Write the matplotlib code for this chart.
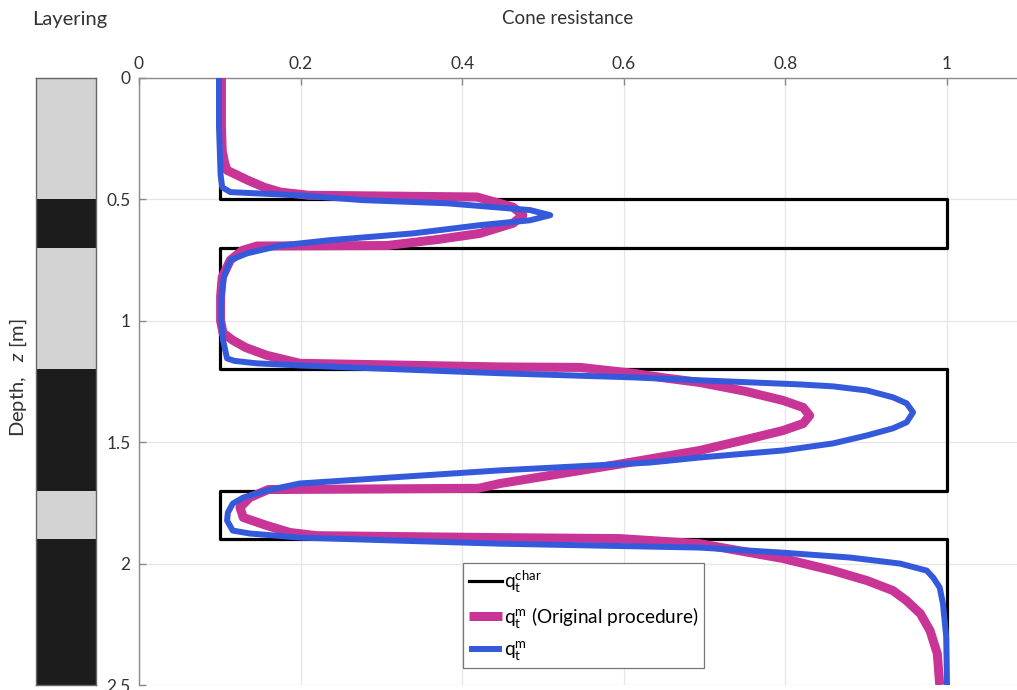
import matplotlib.pyplot as plt
import numpy as np

plt.rcParams['font.family'] = ['Lato', 'DejaVu Sans']
plt.rcParams['mathtext.fontset'] = 'custom'
plt.rcParams['mathtext.rm'] = 'Lato'
plt.rcParams['mathtext.it'] = 'Lato:italic'

# layer boundaries (depth, m) and type (1 = stiff, 0 = soft)
layer_top = [0.0, 0.5, 0.7, 1.2, 1.7, 1.9]
layer_bot = [0.5, 0.7, 1.2, 1.7, 1.9, 2.5]
layer_stiff = [0, 1, 0, 1, 0, 1]

# characteristic cone resistance per layer
q_soft = 0.1
q_stiff = 1.0

# measured cone resistance, original procedure
z_orig = [0.0, 0.1, 0.2, 0.3, 0.35, 0.38, 0.42, 0.45, 0.47, 0.483, 0.49,
          0.532, 0.565, 0.598, 0.64, 0.665, 0.69, 0.692, 0.71, 0.75, 0.82,
          0.9, 1.0, 1.05, 1.08, 1.11, 1.142, 1.175, 1.19, 1.192, 1.216,
          1.235, 1.254, 1.29, 1.328, 1.357, 1.39, 1.423, 1.452, 1.49, 1.534,
          1.588, 1.67, 1.69, 1.695, 1.728, 1.769, 1.81, 1.843, 1.872, 1.885,
          1.893, 1.897, 1.918, 1.979, 2.029, 2.07, 2.111, 2.153, 2.206,
          2.276, 2.371, 2.5]
q_orig = [0.102, 0.102, 0.102, 0.103, 0.106, 0.109, 0.134, 0.155, 0.175,
          0.21, 0.418, 0.463, 0.475, 0.463, 0.422, 0.37, 0.307, 0.146,
          0.128, 0.113, 0.103, 0.101, 0.101, 0.104, 0.116, 0.132, 0.158,
          0.199, 0.447, 0.546, 0.611, 0.65, 0.694, 0.75, 0.797, 0.822, 0.83,
          0.822, 0.797, 0.75, 0.694, 0.599, 0.447, 0.42, 0.16, 0.137, 0.125,
          0.129, 0.158, 0.187, 0.22, 0.447, 0.595, 0.694, 0.797, 0.859,
          0.901, 0.933, 0.95, 0.967, 0.979, 0.988, 0.991]

# measured cone resistance, new procedure
z_new = [0.0, 0.1, 0.2, 0.3, 0.4, 0.45, 0.47, 0.483, 0.503, 0.516, 0.544,
         0.565, 0.586, 0.606, 0.64, 0.668, 0.69, 0.722, 0.75, 0.82, 0.9,
         1.0, 1.08, 1.155, 1.165, 1.175, 1.184, 1.216, 1.233, 1.245, 1.262,
         1.27, 1.287, 1.315, 1.34, 1.377, 1.418, 1.443, 1.472, 1.505, 1.534,
         1.563, 1.584, 1.616, 1.67, 1.699, 1.728, 1.753, 1.79, 1.823, 1.864,
         1.876, 1.893, 1.918, 1.934, 1.955, 1.975, 2.0, 2.029, 2.058, 2.099,
         2.165, 2.3, 2.5]
q_new = [0.099, 0.099, 0.099, 0.1, 0.101, 0.103, 0.113, 0.196, 0.277,
         0.381, 0.484, 0.509, 0.484, 0.422, 0.339, 0.236, 0.175, 0.134,
         0.113, 0.105, 0.102, 0.102, 0.104, 0.109, 0.118, 0.145, 0.199,
         0.447, 0.611, 0.694, 0.818, 0.859, 0.901, 0.933, 0.95, 0.958,
         0.95, 0.933, 0.901, 0.859, 0.797, 0.694, 0.632, 0.447, 0.199,
         0.158, 0.129, 0.116, 0.11, 0.109, 0.116, 0.137, 0.199, 0.447,
         0.694, 0.797, 0.88, 0.942, 0.975, 0.983, 0.991, 0.995, 0.999, 1.0]

x_ticks = [0, 0.2, 0.4, 0.6, 0.8, 1]
x_labels = ['0', '0.2', '0.4', '0.6', '0.8', '1']
y_ticks = [0, 0.5, 1, 1.5, 2, 2.5]
y_labels = ['0', '0.5', '1', '1.5', '2', '2.5']

W, H = 1017, 690
fig = plt.figure(figsize=(W / 100, H / 100), dpi=100)

axis_col = '#8a8a8a'
text_col = '#333333'

# layering column
axl = fig.add_axes([36 / W, 1 - 685 / H, 60 / W, 607 / H])
for top, bot, stiff in zip(layer_top, layer_bot, layer_stiff):
    axl.fill_between([0, 1], top, bot, color='#1c1c1c' if stiff else '#d3d3d3',
                     linewidth=0)
axl.set_xlim(0, 1)
axl.set_ylim(2.5, 0)
axl.set_xticks([])
axl.set_yticks([])
for s in axl.spines.values():
    s.set_color('#666666')
    s.set_linewidth(1.0)

# main axes
ax = fig.add_axes([139 / W, 1 - 685 / H, (W - 139) / W, 607 / H])

# characteristic step profile
zc = []
qc = []
for top, bot, stiff in zip(layer_top, layer_bot, layer_stiff):
    q = q_stiff if stiff else q_soft
    zc += [top, bot]
    qc += [q, q]
ax.plot(qc, zc, color='black', linewidth=2.3, zorder=3,
        label=r'q$_\mathregular{t}^\mathregular{char}$')
ax.plot(q_orig, z_orig, color='#c93597', linewidth=6.5, zorder=4,
        solid_joinstyle='round', solid_capstyle='butt',
        label=r'q$_\mathregular{t}^\mathregular{m}$ (Original procedure)')
ax.plot(q_new, z_new, color='#3559db', linewidth=4.3, zorder=5,
        solid_joinstyle='round', solid_capstyle='butt',
        label=r'q$_\mathregular{t}^\mathregular{m}$')

ax.set_xlim(0, (W - 139) / 808)
ax.set_ylim(2.5, 0)
ax.xaxis.tick_top()
ax.set_xticks(x_ticks)
ax.set_xticklabels(x_labels)
ax.set_yticks(y_ticks)
ax.set_yticklabels(y_labels)
ax.tick_params(direction='in', length=5, width=1, color=axis_col,
               labelcolor=text_col, labelsize=12.5, pad=4)
ax.tick_params(axis='y', pad=6)
ax.grid(True, color='#e6e6e6', linewidth=0.9)
ax.set_axisbelow(True)
for s in ax.spines.values():
    s.set_color(axis_col)
    s.set_linewidth(1.0)
ax.spines['right'].set_visible(False)
ax.spines['bottom'].set_visible(False)

leg = ax.legend(loc='lower left', bbox_to_anchor=(0.369, 0.028), fontsize=13.7,
                handlelength=1.75, handletextpad=0.1, borderpad=0.3,
                labelspacing=0.5, borderaxespad=0, fancybox=False,
                framealpha=1, edgecolor='#777777')
leg.get_frame().set_linewidth(0.9)

fig.text(70 / W, 1 - 19 / H, 'Layering', ha='center', va='center',
         fontsize=14.5, color=text_col)
fig.text(568 / W, 1 - 19 / H, 'Cone resistance', ha='center', va='center',
         fontsize=13.5, color=text_col)
fig.text(18 / W, 1 - 378 / H, r'Depth,   $z$ [m]', ha='center', va='center',
         rotation=90, fontsize=14.5, color=text_col)

fig.savefig('out.png', dpi=100)
